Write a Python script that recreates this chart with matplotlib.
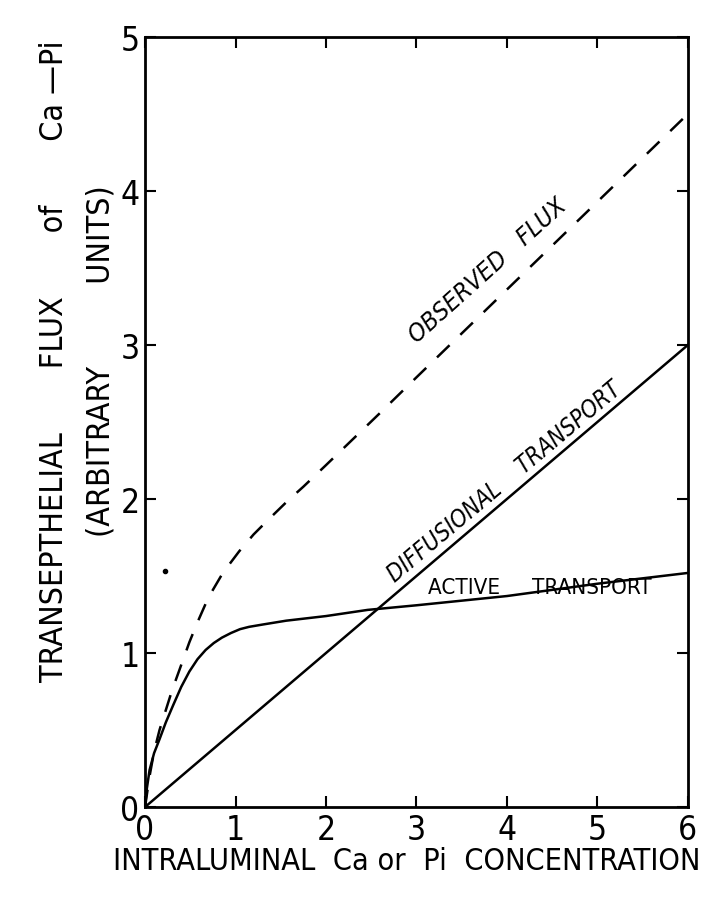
import matplotlib
matplotlib.use("Agg")
import matplotlib.pyplot as plt

# values
diff_x = [0, 6]
diff_y = [0, 3.0]

active_x = [0, 0.02, 0.05, 0.1, 0.16, 0.23, 0.31, 0.4, 0.49, 0.58, 0.67, 0.76,
            0.85, 0.95, 1.05, 1.15, 1.3, 1.56, 2.0, 2.46, 3.0, 4.0, 5.0, 6.0]
active_y = [0, 0.12, 0.24, 0.35, 0.44, 0.55, 0.66, 0.78, 0.88, 0.96, 1.02, 1.065,
            1.10, 1.13, 1.155, 1.17, 1.185, 1.21, 1.24, 1.28, 1.31, 1.37, 1.45, 1.52]

obs_x = [0, 0.05, 0.1, 0.16, 0.23, 0.3, 0.38, 0.49, 0.58, 0.7, 0.86, 1.04, 1.2,
         1.37, 1.58, 1.75, 2.0, 2.3, 2.6, 3.0, 3.5, 4.0, 4.5, 5.0, 5.5, 6.0]
obs_y = [0, 0.2, 0.36, 0.5, 0.63, 0.76, 0.89, 1.07, 1.2, 1.36, 1.52, 1.66, 1.77,
         1.87, 1.99, 2.08, 2.22, 2.39, 2.56, 2.79, 3.075, 3.36, 3.645, 3.93, 4.215, 4.5]

stray_x = [0.22]
stray_y = [1.53]

xticks = [0, 1, 2, 3, 4, 5, 6]
yticks = [0, 1, 2, 3, 4, 5]

plt.rcParams['font.family'] = ['DejaVu Sans']
plt.rcParams['font.stretch'] = 'condensed'

fig = plt.figure(figsize=(7.18, 9.2), dpi=100)
ax = fig.add_axes([0.202, 0.1217, 0.756, 0.837])

ax.plot(diff_x, diff_y, color="black", lw=1.8)
ax.plot(active_x, active_y, color="black", lw=1.8)
ax.plot(obs_x, obs_y, color="black", lw=1.8, dashes=(7, 6))
ax.plot(stray_x, stray_y, "o", color="black", ms=3)

ax.set_xlim(0, 6)
ax.set_ylim(0, 5)
ax.set_xticks(xticks)
ax.set_yticks(yticks)
ax.set_xticklabels([str(t) for t in xticks])
ax.set_yticklabels([str(t) for t in yticks])
ax.tick_params(direction="in", length=8, width=1.5, labelsize=24,
               top=True, right=True, pad=4)
for s in ax.spines.values():
    s.set_linewidth(2)

ax.text(3.79, 3.49, "OBSERVED   FLUX", rotation=42, fontsize=18, style="italic",
        ha="center", va="center")
ax.text(4.02, 2.08, "DIFFUSIONAL    TRANSPORT", rotation=40, fontsize=17, style="italic",
        ha="center", va="baseline", rotation_mode="anchor")
ax.text(4.36, 1.43, "ACTIVE     TRANSPORT", fontsize=16, ha="center", va="center")

fig.text(0.076, 0.607, "TRANSEPTHELIAL       FLUX       of       Ca —Pi", rotation=90,
         fontsize=23, ha="center", va="center")
fig.text(0.14, 0.607, "(ARBITRARY         UNITS)", rotation=90,
         fontsize=23, ha="center", va="center")
fig.text(0.566, 0.064, "INTRALUMINAL  Ca or  Pi  CONCENTRATION",
         fontsize=22, ha="center", va="center")

fig.savefig("out.png", dpi=100)
